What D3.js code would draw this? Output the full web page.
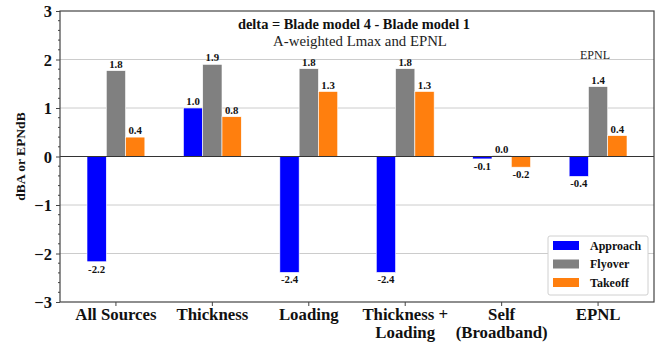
<!DOCTYPE html>
<html>
<head>
<meta charset="utf-8">
<script src="https://cdn.jsdelivr.net/npm/d3@7"></script>
<style>
  html, body { margin: 0; padding: 0; background: #fff; }
  svg { display: block; }
</style>
</head>
<body>
<svg id="chart" width="657" height="347"></svg>
<script>
// Noise deltas (Blade model 4 minus Blade model 1), dBA or EPNdB
const categories = [["All Sources"], ["Thickness"], ["Loading"], ["Thickness +", "Loading"], ["Self", "(Broadband)"], ["EPNL"]];
const seriesNames = ["Approach", "Flyover", "Takeoff"];
const approach = [-2.17, 1.0, -2.39, -2.39, -0.05, -0.41];
const flyover = [1.77, 1.9, 1.81, 1.81, 0.02, 1.44];
const takeoff = [0.4, 0.82, 1.34, 1.34, -0.22, 0.43];
const seriesColors = ["#0000ff", "#808080", "#ff7f0e"];
const yTicks = [-3, -2, -1, 0, 1, 2, 3];

const FONT = '"Liberation Serif"';
const series = [approach, flyover, takeoff];
const svg = d3.select("#chart");
const m = { left: 60, right: 654, top: 11, bottom: 302 };

const x = d3.scaleLinear().domain([-0.58, categories.length - 1 + 0.58]).range([m.left, m.right]);
const y = d3.scaleLinear().domain([-3, 3]).range([m.bottom, m.top]);
const barW = x(0.2) - x(0);

// text helper: serif font set inline
function txt(sel, size, bold) {
  return sel.style("font-family", FONT).style("font-size", size + "px")
    .style("font-weight", bold ? "bold" : "normal");
}

// grid lines
svg.append("g").selectAll("line").data(yTicks.filter(d => d !== 0 && Math.abs(d) !== 3)).join("line")
  .attr("x1", m.left).attr("x2", m.right)
  .attr("y1", d => y(d)).attr("y2", d => y(d))
  .attr("stroke", "#cccccc").attr("stroke-width", 1);

// bars and value labels
series.forEach((vals, s) => {
  const g = svg.append("g");
  g.selectAll("rect").data(vals).join("rect")
    .attr("x", (d, i) => x(i + (s - 1) * 0.2) - barW / 2)
    .attr("width", barW)
    .attr("y", d => y(Math.max(0, d)))
    .attr("height", d => Math.abs(y(d) - y(0)))
    .attr("fill", seriesColors[s])
    .attr("stroke", "#fff").attr("stroke-width", 0.6);
  txt(g.selectAll("text").data(vals).join("text"), 10.8, true)
    .attr("x", (d, i) => x(i + (s - 1) * 0.2))
    .attr("y", d => d >= 0 ? y(d) - 3 : y(d) + 11)
    .attr("text-anchor", "middle")
    .attr("fill", "#111")
    .text(d => d3.format(".1f")(d).replace("\u2212", "-"));
});

// zero line
svg.append("line").attr("x1", m.left).attr("x2", m.right)
  .attr("y1", y(0)).attr("y2", y(0)).attr("stroke", "#333").attr("stroke-width", 1.2);

// y axis
const yAxis = svg.append("g").attr("transform", `translate(${m.left},0)`)
  .call(d3.axisLeft(y).tickValues(yTicks).tickSize(4).tickPadding(4).tickFormat(d => d3.format("d")(d).replace("-", "\u2212")));
yAxis.select(".domain").remove();
txt(yAxis.selectAll("text"), 16.5, true).attr("fill", "#111").attr("dy", "0.34em");
yAxis.selectAll("line").attr("stroke", "#444");
const minor = d3.range(-3, 3.001, 0.2).filter(v => Math.abs(v - Math.round(v)) > 0.01);
svg.append("g").selectAll("line").data(minor).join("line")
  .attr("x1", m.left - 2).attr("x2", m.left)
  .attr("y1", d => y(d)).attr("y2", d => y(d))
  .attr("stroke", "#444");

// x axis ticks and labels (one text per line)
const xg = svg.append("g");
xg.selectAll("line").data(categories).join("line")
  .attr("x1", (d, i) => x(i)).attr("x2", (d, i) => x(i))
  .attr("y1", m.bottom).attr("y2", m.bottom + 4).attr("stroke", "#444");
const xLines = categories.flatMap((lines, i) => lines.map((t, k) => ({ i, k, t })));
txt(xg.selectAll("text").data(xLines).join("text"), 16.8, true)
  .attr("x", d => x(d.i)).attr("y", d => m.bottom + 18 + d.k * 18)
  .attr("text-anchor", "middle").attr("fill", "#111")
  .text(d => d.t);

// frame
svg.append("rect").attr("x", m.left).attr("y", m.top)
  .attr("width", m.right - m.left).attr("height", m.bottom - m.top)
  .attr("fill", "none").attr("stroke", "#444").attr("stroke-width", 1.2);

// y label
txt(svg.append("text"), 13.5, true)
  .attr("transform", `translate(25,${(m.top + m.bottom) / 2}) rotate(-90)`)
  .attr("text-anchor", "middle").attr("fill", "#111")
  .text("dBA or EPNdB");

// titles
txt(svg.append("text"), 14.4, true).attr("x", 354).attr("y", 29).attr("text-anchor", "middle")
  .attr("fill", "#111").text("delta = Blade model 4 - Blade model 1");
txt(svg.append("text"), 14.8, false).attr("x", 360).attr("y", 45.5).attr("text-anchor", "middle")
  .attr("fill", "#222").text("A-weighted Lmax and EPNL");
txt(svg.append("text"), 12, false).attr("x", 595).attr("y", 59).attr("text-anchor", "middle")
  .attr("fill", "#222").text("EPNL");

// legend
const lg = svg.append("g").attr("transform", "translate(548,236)");
lg.append("rect").attr("width", 100).attr("height", 59).attr("rx", 2)
  .attr("fill", "#fff").attr("stroke", "#d0d0d0");
seriesNames.forEach((name, i) => {
  lg.append("rect").attr("x", 5).attr("y", 5 + i * 18.5).attr("width", 26).attr("height", 9)
    .attr("fill", seriesColors[i]);
  txt(lg.append("text"), 12, true).attr("x", 42).attr("y", 13.5 + i * 18.5)
    .attr("fill", "#111").text(name);
});
</script>
</body>
</html>
